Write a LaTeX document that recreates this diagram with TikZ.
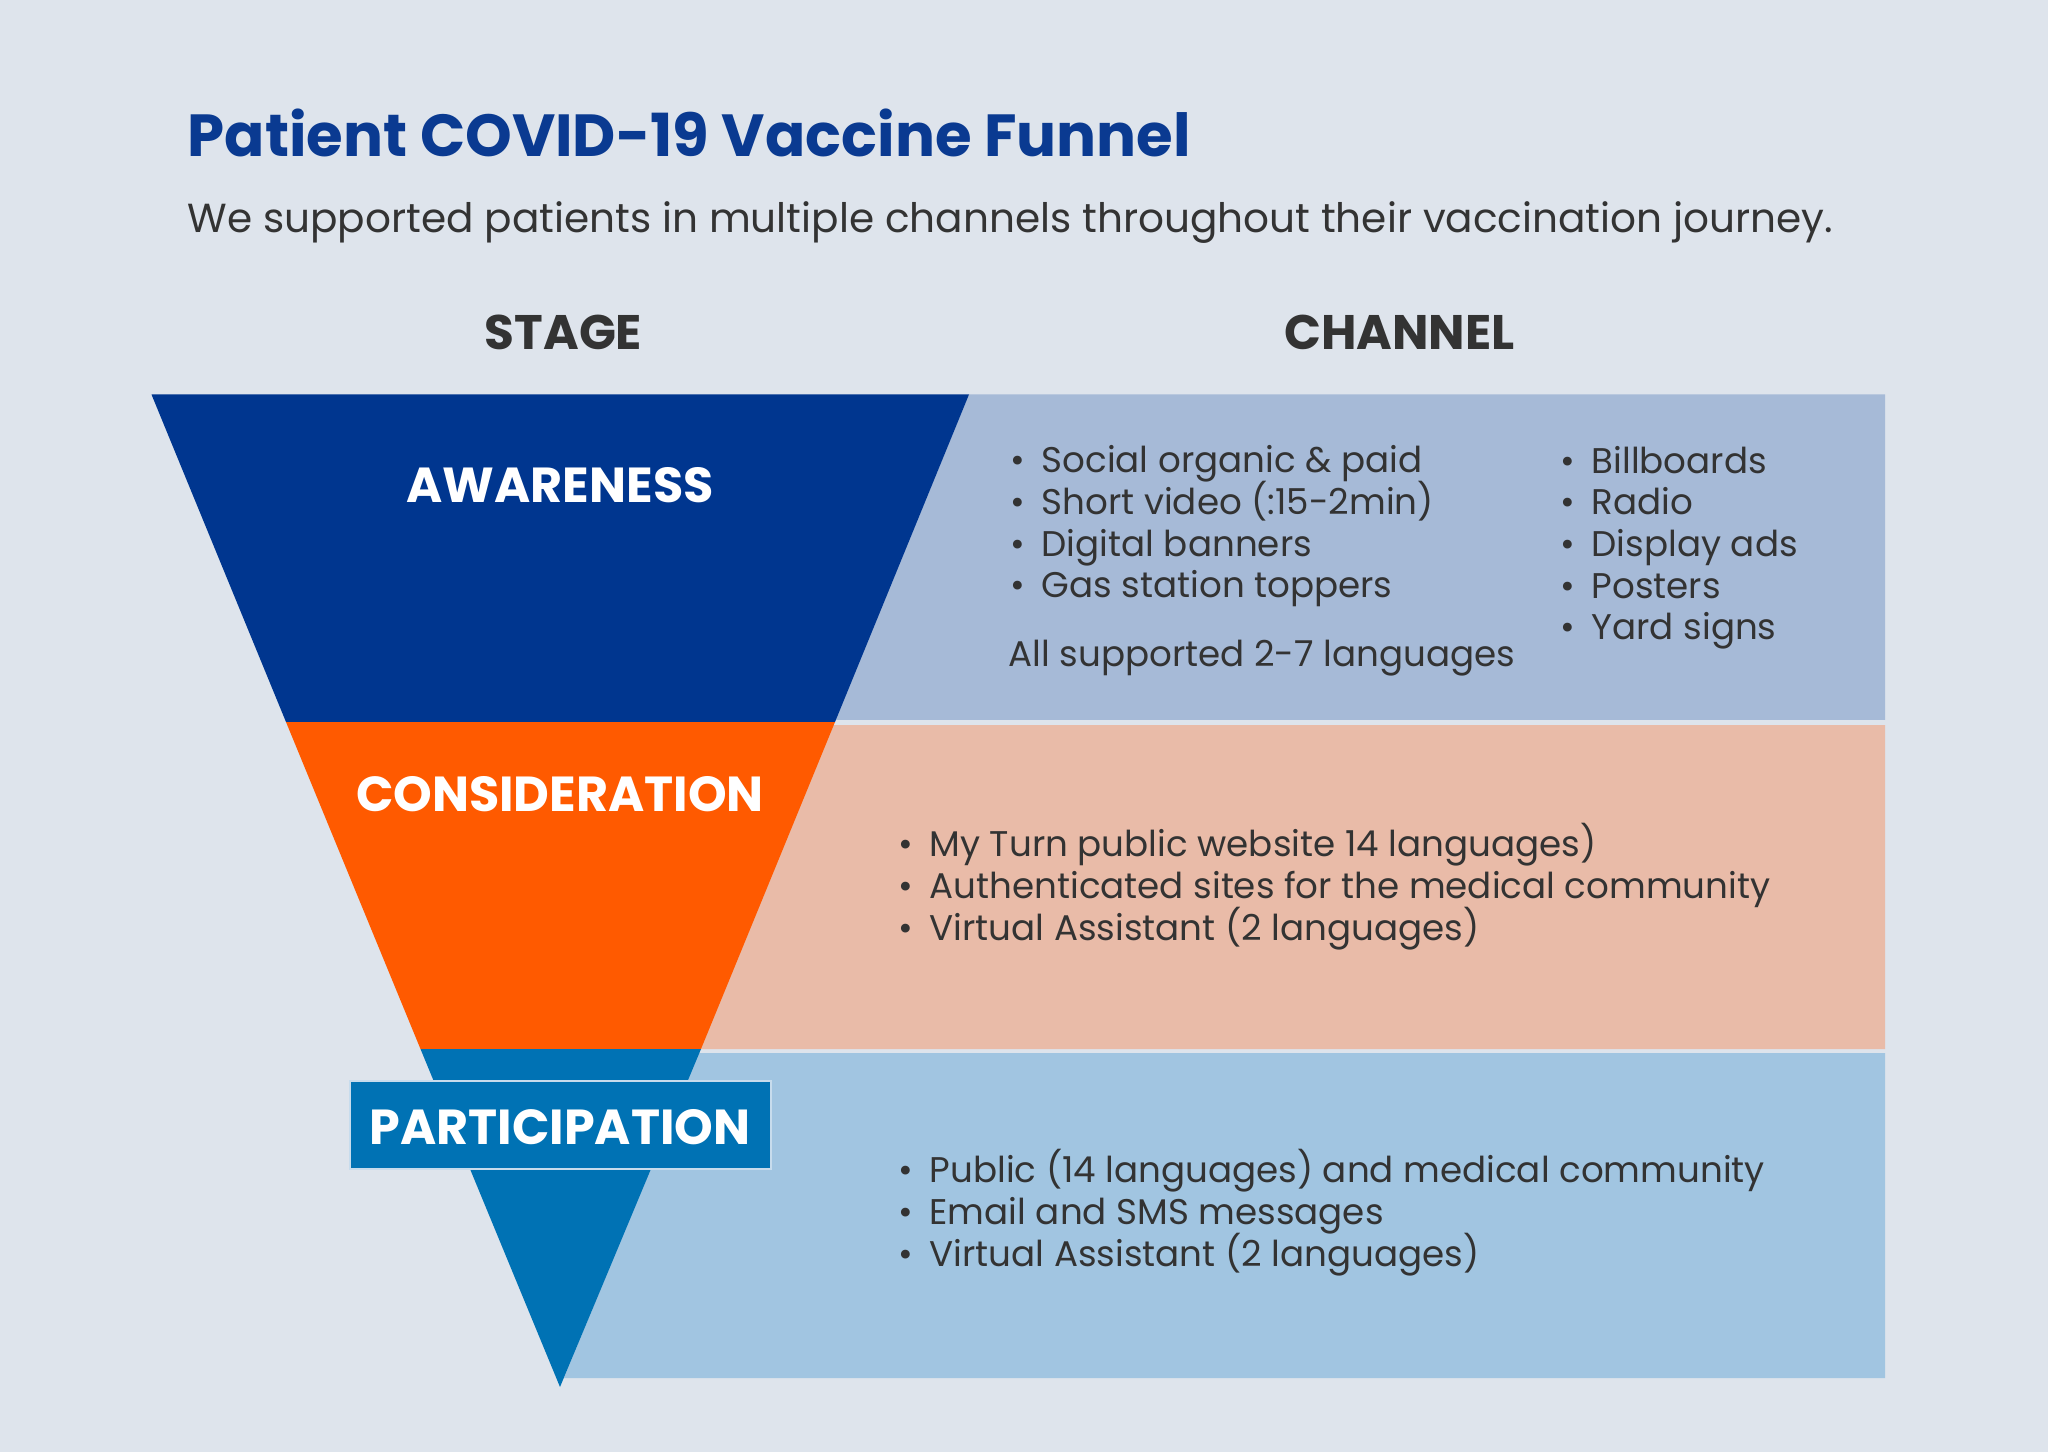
\documentclass[tikz,border=0pt]{standalone}
\usepackage{fontspec}
\setmainfont{Poppins}
\usetikzlibrary{positioning}
\definecolor{fnbg}{RGB}{222,228,236}
\definecolor{fnnavy}{RGB}{0,54,143}
\definecolor{fnorange}{RGB}{255,90,0}
\definecolor{fnblue}{RGB}{0,114,180}
\definecolor{fnbandA}{RGB}{166,186,215}
\definecolor{fnbandB}{RGB}{233,187,168}
\definecolor{fnbandC}{RGB}{161,197,225}
\definecolor{fntitle}{RGB}{10,58,145}
\definecolor{fntext}{RGB}{51,51,51}
\newcommand{\fnitem}[1]{\makebox[0.31cm][l]{\textbullet}#1}
\newcommand{\fntight}{\setlength{\lineskiplimit}{-20pt}\setlength{\lineskip}{0pt}}
\tikzset{
  fnhead/.style={anchor=base, inner sep=0pt, text=fntext,
    font=\fontsize{13.8}{16}\selectfont\bfseries},
  fnstage/.style={anchor=base, inner sep=0pt, text=white,
    font=\fontsize{14}{17}\selectfont\bfseries},
  fnlist/.style={anchor=base west, align=left, inner sep=0pt, text=fntext,
    font=\fontsize{10.15}{11.86}\selectfont\fntight}
}

\begin{document}
\begin{tikzpicture}
  \fill[fnbg] (0cm,0cm) rectangle (20.48cm,-14.52cm);
  \useasboundingbox (0cm,0cm) rectangle (20.48cm,-14.52cm);
  \node[anchor=base west, inner sep=0pt, text=fntitle, font=\fontsize{16.9}{20}\selectfont\bfseries] (title) at (1.87cm,-1.57cm) {Patient COVID-19 Vaccine Funnel};
  \node[anchor=base west, inner sep=0pt, text=fntext, font=\fontsize{11.55}{14}\selectfont] (subtitle) at (1.87cm,-2.33cm) {We supported patients in multiple channels throughout their vaccination journey.};
  \node[fnhead] (hStage) at (5.635cm,-3.50cm) {STAGE};
  \node[fnhead] (hChannel) at (13.995cm,-3.50cm) {CHANNEL};
  \fill[fnbandA] (9.69cm,-3.945cm) -- (18.85cm,-3.945cm) -- (18.85cm,-7.20cm) -- (8.35cm,-7.20cm) -- cycle;
  \fill[fnbandB] (8.33cm,-7.25cm) -- (18.85cm,-7.25cm) -- (18.85cm,-10.49cm) -- (6.99cm,-10.49cm) -- cycle;
  \fill[fnbandC] (6.98cm,-10.53cm) -- (18.85cm,-10.53cm) -- (18.85cm,-13.78cm) -- (5.64cm,-13.78cm) -- cycle;
  \fill[fnnavy] (1.515cm,-3.945cm) -- (9.69cm,-3.945cm) -- (8.35cm,-7.22cm) -- (2.86cm,-7.22cm) -- cycle;
  \fill[fnorange] (2.86cm,-7.22cm) -- (8.35cm,-7.22cm) -- (7.01cm,-10.49cm) -- (4.205cm,-10.49cm) -- cycle;
  \fill[fnblue] (4.205cm,-10.49cm) -- (7.01cm,-10.49cm) -- (5.60cm,-13.87cm) -- cycle;
  \node[fnstage] (sAware) at (5.60cm,-5.03cm) {AWARENESS};
  \node[fnstage] (sConsider) at (5.60cm,-8.12cm) {CONSIDERATION};
  \filldraw[fill=fnblue, draw=fnbandC!60!white, line width=0.6pt] (3.50cm,-10.81cm) rectangle (7.71cm,-11.69cm);
  \node[fnstage] (sPartic) at (5.60cm,-11.44cm) {PARTICIPATION};
  \node[fnlist] (cAwareA) at (10.10cm,-5.98cm) {\fnitem{Social organic \& paid}\\\fnitem{Short video (:15-2min)}\\\fnitem{Digital banners}\\\fnitem{Gas station toppers}};
  \node[fnlist] (cAwareNote) at (10.08cm,-6.67cm) {All supported 2-7 languages};
  \node[fnlist] (cAwareB) at (15.60cm,-6.40cm) {\fnitem{Billboards}\\\fnitem{Radio}\\\fnitem{Display ads}\\\fnitem{Posters}\\\fnitem{Yard signs}};
  \node[fnlist] (cConsider) at (8.98cm,-9.40cm) {\fnitem{My Turn public website 14 languages)}\\\fnitem{Authenticated sites for the medical community}\\\fnitem{Virtual Assistant (2 languages)}};
  \node[fnlist] (cPartic) at (8.98cm,-12.66cm) {\fnitem{Public (14 languages) and medical community}\\\fnitem{Email and SMS messages}\\\fnitem{Virtual Assistant (2 languages)}};
\end{tikzpicture}
\end{document}
